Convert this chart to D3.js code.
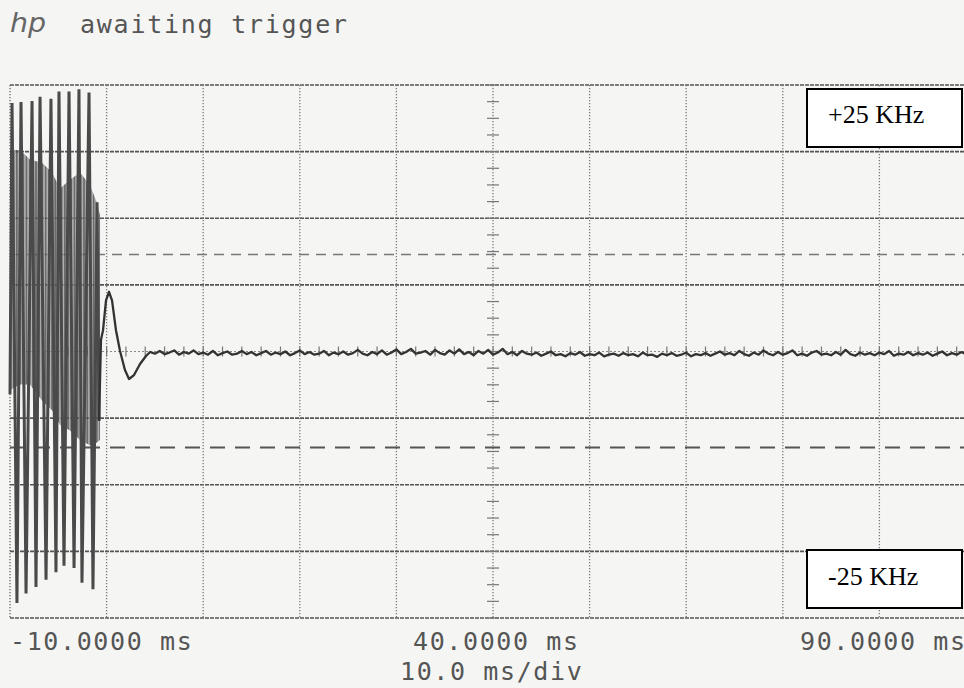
<!DOCTYPE html>
<html><head><meta charset="utf-8">
<script src="https://cdn.jsdelivr.net/npm/d3@7"></script>
<style>html,body{margin:0;padding:0;background:#f5f5f4;}svg{display:block;}</style>
</head><body><svg id="c" width="964" height="688"></svg>
<script>
// ---- data (time in ms, frequency deviation in kHz) ----
const timeDomain = [-10, 90];
const freqDomain = [-25, 25];
const timeGrid = [-10, 0, 10, 20, 30, 40, 50, 60, 70, 80, 90];
const freqGrid = [-25, -18.75, -12.5, -6.25, 0, 6.25, 12.5, 18.75, 25];
const thresholds = [9.1, -9.0];
const xLabels = ["-10.0000 ms", "40.0000 ms", "90.0000 ms"];
const xLabelTimes = [-10, 40, 90];
const scaleLabel = "10.0 ms/div";
const title = "awaiting trigger";
const boxLabels = ["+25 KHz", "-25 KHz"];

// pre-trigger sweeping signal: peaks (time, kHz)
const sweepT = [-10.0,-9.79,-9.28,-8.86,-8.34,-7.72,-7.31,-6.89,-6.27,-5.76,-5.24,-4.93,-4.41,-3.89,-3.37,-2.86,-2.55,-1.82,-1.41,-0.99,-0.78];
const sweepV = [-4.0,23.3,-23.6,23.4,-22.7,23.5,-22.1,23.9,-21.4,23.7,-20.7,24.4,-20.1,24.4,-20.3,24.6,-21.7,24.3,-22.3,14.0,-6.5];
// dense envelope of the sweep
const envT = [-10.0,-8.96,-7.93,-6.69,-5.65,-4.82,-3.79,-2.75,-1.72,-1.10,-0.68];
const envHi = [18.9,18.9,18.0,17.7,16.8,15.3,16.1,16.8,15.6,14.2,12.8];
const envLo = [-3.6,-3.1,-3.1,-4.6,-5.5,-6.9,-7.4,-8.3,-8.8,-8.6,-8.3];
// post-trigger ringing
const ringT = [-0.78,-0.58,-0.37,-0.06,0.25,0.56,0.97,1.39,1.90,2.32,2.84,3.46,4.08];
const ringV = [-6.5,1.1,2.0,4.8,5.6,4.8,2.0,0.05,-1.74,-2.58,-2.21,-1.17,-0.42];
// settled trace, one sample every 0.5 ms from 4.5 ms
const settleStart = 4.5, settleStep = 0.5;
const settleV = [
-0.05,-0.20,0.05,-0.25,-0.10,0.10,-0.30,-0.05,-0.20,0.10,
-0.25,-0.10,-0.30,0.05,-0.35,-0.15,0.00,-0.30,-0.20,0.05,
-0.25,-0.05,-0.35,-0.15,0.05,-0.30,-0.10,-0.25,0.00,-0.35,
-0.15,0.10,-0.25,-0.05,-0.30,-0.20,0.05,-0.35,-0.10,-0.25,
0.00,-0.30,-0.15,0.15,-0.20,-0.35,-0.05,-0.25,0.10,-0.30,
-0.10,0.20,-0.25,-0.05,0.25,-0.20,-0.10,0.05,-0.30,0.15,
-0.15,-0.30,0.10,-0.20,0.20,-0.25,-0.05,-0.35,0.05,-0.20,
0.15,-0.30,-0.10,0.25,-0.25,-0.05,-0.35,0.05,-0.20,-0.30,
-0.10,-0.40,-0.20,0.00,-0.35,-0.25,-0.45,-0.15,-0.30,-0.05,
-0.40,-0.25,-0.35,-0.10,-0.45,-0.30,-0.20,-0.40,-0.15,-0.35,
-0.25,-0.45,-0.10,-0.35,-0.30,-0.50,-0.20,-0.35,-0.15,-0.40,
-0.30,-0.10,-0.45,-0.25,-0.35,-0.15,-0.40,-0.20,0.00,-0.30,
-0.15,-0.35,0.05,-0.25,-0.40,-0.10,-0.30,0.10,-0.20,-0.35,
-0.05,-0.30,-0.15,0.10,-0.35,-0.20,-0.40,-0.10,0.05,-0.30,
-0.20,-0.35,-0.05,-0.30,0.15,-0.25,-0.40,-0.10,-0.30,-0.15,
-0.35,-0.10,-0.25,0.05,-0.40,-0.20,-0.30,-0.05,-0.35,-0.15,
-0.30,-0.10,-0.40,-0.20,0.00,-0.35,-0.15,-0.30,-0.05,-0.25,
-0.20,-0.30];

// ---- layout ----
const svg = d3.select("#c");
const L = 10, R = 976, T = 85, B = 618;
const x = d3.scaleLinear().domain(timeDomain).range([L, R]);
const y = d3.scaleLinear().domain(freqDomain).range([B, T]);

svg.append("rect").attr("width",964).attr("height",688).attr("fill","#f5f5f4");

const defs = svg.append("defs");
const pat = defs.append("pattern").attr("id","stripes").attr("patternUnits","userSpaceOnUse")
  .attr("width",3.2).attr("height",4);
pat.append("rect").attr("width",2.1).attr("height",4).attr("fill","#4a4a4a");
pat.append("rect").attr("x",2.1).attr("width",1.1).attr("height",4).attr("fill","#a0a0a0");

// grid
const g = svg.append("g");
g.selectAll("line.h").data(freqGrid).join("line")
  .attr("x1",L).attr("x2",R).attr("y1",d=>y(d)).attr("y2",d=>y(d))
  .attr("stroke", d => d===0 ? "#8a8a8a" : "#555")
  .attr("stroke-width", d => d===0 ? 1.2 : 1.7)
  .attr("stroke-dasharray", d => d===0 ? "2,2" : "4,1");
g.selectAll("line.v").data(timeGrid).join("line")
  .attr("y1",T).attr("y2",B).attr("x1",d=>x(d)).attr("x2",d=>x(d))
  .attr("stroke", d => d===-10 ? "#666" : "#7a7a7a")
  .attr("stroke-width",1.3).attr("stroke-dasharray","1.3,1.7");
// minor ticks on the centre axes
const xMinor = d3.range(timeDomain[0], timeDomain[1]+0.01, 2);
g.selectAll("line.xm").data(xMinor).join("line")
  .attr("x1",d=>x(d)).attr("x2",d=>x(d)).attr("y1",y(0)-5).attr("y2",y(0)+5)
  .attr("stroke","#777").attr("stroke-width",1.2);
const yMinor = d3.range(freqDomain[0], freqDomain[1]+0.01, 6.25/4);
g.selectAll("line.ym").data(yMinor).join("line")
  .attr("x1",x(40)-6).attr("x2",x(40)+6).attr("y1",d=>y(d)).attr("y2",d=>y(d))
  .attr("stroke","#777").attr("stroke-width",1.2);

// threshold dashed lines
svg.selectAll("line.th").data(thresholds).join("line")
  .attr("x1",L).attr("x2",R).attr("y1",d=>y(d)).attr("y2",d=>y(d))
  .attr("stroke", (d,i)=> i===0 ? "#777" : "#555")
  .attr("stroke-width", (d,i)=> i===0 ? 1.6 : 2)
  .attr("stroke-dasharray", (d,i)=> i===0 ? "10,7" : "15,10");

// dense sweep envelope
const env = envT.map((t,i)=>({t, hi:envHi[i], lo:envLo[i]}));
svg.append("path").datum(env)
  .attr("d", d3.area().x(d=>x(d.t)).y0(d=>y(d.lo)).y1(d=>y(d.hi)))
  .attr("fill","url(#stripes)").attr("opacity",0.8);

// sweep strokes
const sweep = sweepT.map((t,i)=>({t, v:sweepV[i]}));
svg.append("path").datum(sweep)
  .attr("d", d3.line().x(d=>x(d.t)).y(d=>y(d.v)))
  .attr("fill","none").attr("stroke","#4a4a4a").attr("stroke-width",3);

// ringing + settled trace
const settle = settleV.map((v,i)=>({t: settleStart + i*settleStep, v}));
const ring = ringT.map((t,i)=>({t, v:ringV[i]}));
const trace = ring.concat(settle);
svg.append("path").datum(trace)
  .attr("d", d3.line().x(d=>x(d.t)).y(d=>y(d.v)))
  .attr("fill","none").attr("stroke","#333").attr("stroke-width",2.3)
  .attr("stroke-linejoin","round");

// boxes
const boxes = [{label:boxLabels[0], top:89, base:123}, {label:boxLabels[1], top:550, base:585}];
boxes.forEach(b => {
  svg.append("rect").attr("x",807).attr("y",b.top).attr("width",155).attr("height",58)
    .attr("fill","#fff").attr("stroke","#000").attr("stroke-width",2);
  svg.append("text").attr("x",828).attr("y",b.base).text(b.label)
    .attr("font-family","'Liberation Serif', 'Times New Roman', serif")
    .attr("font-size",26).attr("fill","#000");
});

// texts
const mono = "'DejaVu Sans Mono', monospace";
svg.append("text").attr("x",10).attr("y",32).text("hp")
  .attr("font-family","'DejaVu Sans', sans-serif").attr("font-style","italic")
  .attr("font-size",26).attr("fill","#666").attr("textLength",36).attr("lengthAdjust","spacingAndGlyphs");
svg.append("text").attr("x",80).attr("y",33).text(title)
  .attr("font-family",mono).attr("font-size",25).attr("fill","#555")
  .attr("textLength",267).attr("lengthAdjust","spacing");

xLabels.forEach((lab,i) => {
  const w = lab.length * 16.7;
  const x0 = i===0 ? 10 : (i===1 ? 413 : 800);
  svg.append("text").attr("x",x0).attr("y",650).text(lab)
    .attr("font-family",mono).attr("font-size",25).attr("fill","#555")
    .attr("textLength",w - 2).attr("lengthAdjust","spacing");
});
svg.append("text").attr("x",400).attr("y",680).text(scaleLabel)
  .attr("font-family",mono).attr("font-size",25).attr("fill","#555")
  .attr("textLength",scaleLabel.length*16.7 - 2).attr("lengthAdjust","spacing");
</script></body></html>
